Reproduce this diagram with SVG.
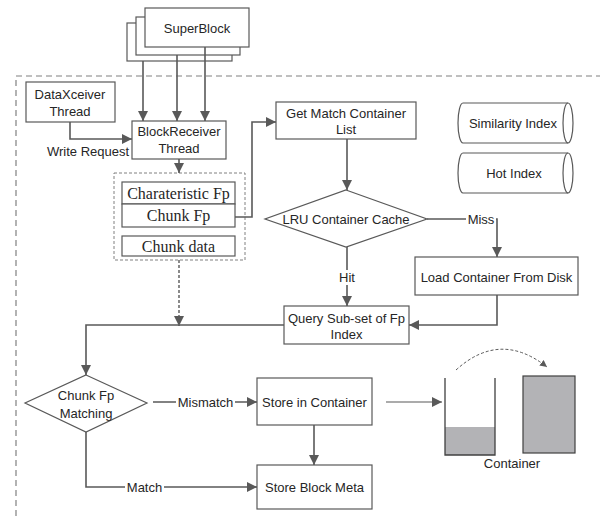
<svg xmlns="http://www.w3.org/2000/svg" width="600" height="516" viewBox="0 0 600 516">
<defs>
<style>
.box{fill:#fff;stroke:#595959;stroke-width:1.2}
.t{font-family:"Liberation Sans",Arial,sans-serif;font-size:13px;fill:#262626;text-anchor:middle;dominant-baseline:central}
.s{font-family:"Liberation Serif","Times New Roman",serif;font-size:16px;fill:#262626;text-anchor:middle;dominant-baseline:central}
.ln{fill:none;stroke:#595959;stroke-width:1.6}
.thin{fill:none;stroke:#595959;stroke-width:1.2}
.bg{fill:#fff}
</style>
<marker id="ah" viewBox="0 0 10 10" refX="10" refY="5" markerWidth="10" markerHeight="10" markerUnits="userSpaceOnUse" orient="auto">
<path d="M0,0 L10,5 L0,10 z" fill="#595959"/>
</marker>
<marker id="ahs" viewBox="0 0 10 10" refX="10" refY="5" markerWidth="7" markerHeight="7" markerUnits="userSpaceOnUse" orient="auto">
<path d="M0,0 L10,5 L0,10 z" fill="#595959"/>
</marker>
</defs>
<rect width="600" height="516" fill="#fff"/>

<path d="M16,516 V76 H600" fill="none" stroke="#808080" stroke-width="1.2" stroke-dasharray="6,4"/>

<g id="superblock">
<rect class="box" x="127" y="23" width="105" height="38"/>
<rect class="box" x="136" y="17" width="104" height="38"/>
<rect class="box" x="145" y="8" width="104" height="39"/>
<text class="t" x="197" y="28">SuperBlock</text>
</g>

<g id="dataxceiver">
<rect class="box" x="26" y="82" width="89" height="40"/>
<text class="t" x="70" y="94">DataXceiver</text>
<text class="t" x="70" y="111">Thread</text>
</g>

<g id="blockreceiver">
<rect class="box" x="132" y="121" width="94" height="38"/>
<text class="t" x="179" y="131">BlockReceiver</text>
<text class="t" x="179" y="148">Thread</text>
</g>

<g id="chunkgroup">
<rect x="114" y="173" width="131" height="87" fill="#fff" stroke="#808080" stroke-width="1" stroke-dasharray="3,2"/>
<rect class="box" x="122" y="182" width="113" height="22"/>
<text class="s" x="178.5" y="193">Charateristic Fp</text>
<rect class="box" x="122" y="204" width="113" height="23"/>
<text class="s" x="178.5" y="215.5">Chunk Fp</text>
<rect class="box" x="122" y="236" width="113" height="20"/>
<text class="s" x="178.5" y="246">Chunk data</text>
</g>

<g id="getmatch">
<rect class="box" x="276" y="102" width="140" height="37"/>
<text class="t" x="346" y="113">Get Match Container</text>
<text class="t" x="346" y="129">List</text>
</g>

<g id="similarity">
<path class="box" d="M463,103 H568 A5,20 0 0 1 568,143 H463 A5,20 0 0 1 463,103 Z"/>
<path class="thin" d="M568,143 A5,20 0 0 1 568,103"/>
<text class="t" x="513" y="123">Similarity Index</text>
</g>

<g id="hotindex">
<path class="box" d="M463,153 H568 A5,20 0 0 1 568,193 H463 A5,20 0 0 1 463,153 Z"/>
<path class="thin" d="M568,193 A5,20 0 0 1 568,153"/>
<text class="t" x="514" y="173">Hot Index</text>
</g>

<g id="lru">
<polygon class="box" points="346,190 427,219 346,247 265,219"/>
<text class="t" x="346" y="219">LRU Container Cache</text>
</g>

<g id="loadcontainer">
<rect class="box" x="415" y="257" width="163" height="38"/>
<text class="t" x="496.5" y="277">Load Container From Disk</text>
</g>

<g id="query">
<rect class="box" x="284" y="306" width="125" height="38"/>
<text class="t" x="346.5" y="318">Query Sub-set of Fp</text>
<text class="t" x="346.5" y="334">Index</text>
</g>

<g id="chunkmatch">
<polygon class="box" points="86,375 147,403 86,432 25,403"/>
<text class="t" x="86" y="395">Chunk Fp</text>
<text class="t" x="86" y="413">Matching</text>
</g>

<g id="storecontainer">
<rect class="box" x="257" y="378" width="115" height="47"/>
<text class="t" x="314.5" y="402">Store in Container</text>
</g>

<g id="storemeta">
<rect class="box" x="257" y="465" width="115" height="44"/>
<text class="t" x="314.5" y="487">Store Block Meta</text>
</g>

<g id="containers">
<rect x="445" y="427" width="50" height="28" fill="#b3b3b6"/>
<path d="M445,378 V455 H495 V378" fill="none" stroke="#404040" stroke-width="1.3"/>
<rect x="523" y="376" width="52" height="77" fill="#b3b3b6" stroke="#404040" stroke-width="1.2"/>
<text class="t" x="512" y="463">Container</text>
</g>

<g id="connectors">
<line class="ln" x1="143" y1="61" x2="143" y2="121" marker-end="url(#ah)"/>
<line class="ln" x1="177" y1="55" x2="177" y2="121" marker-end="url(#ah)"/>
<line class="ln" x1="205" y1="47" x2="205" y2="121" marker-end="url(#ah)"/>
<path class="ln" d="M70,122 V139 H132" marker-end="url(#ah)"/>
<line class="ln" x1="179" y1="159" x2="179" y2="173" marker-end="url(#ah)"/>
<path class="ln" d="M235,217 H252 V122 H276" marker-end="url(#ah)"/>
<line class="ln" x1="347" y1="139" x2="347" y2="190" marker-end="url(#ah)"/>
<path class="ln" d="M427,219 H497 V257" marker-end="url(#ah)"/>
<line class="ln" x1="347" y1="247" x2="347" y2="306" marker-end="url(#ah)"/>
<path class="ln" d="M497,295 V325 H409" marker-end="url(#ah)"/>
<path class="ln" d="M284,325 H86 V375" marker-end="url(#ah)"/>
<line x1="179" y1="260" x2="179" y2="326" stroke="#595959" stroke-width="1.4" stroke-dasharray="3,2" marker-end="url(#ah)"/>
<line class="ln" x1="153" y1="402" x2="257" y2="402" marker-end="url(#ah)"/>
<path class="ln" d="M86,432 V487 H257" marker-end="url(#ah)"/>
<line class="ln" x1="314" y1="425" x2="314" y2="465" marker-end="url(#ah)"/>
<line class="thin" x1="386" y1="402" x2="442" y2="402" marker-end="url(#ah)"/>
<path d="M456,370 Q500,330 547,367" fill="none" stroke="#595959" stroke-width="1" stroke-dasharray="3,2" marker-end="url(#ahs)"/>
</g>

<g id="labels">
<text class="t" x="88" y="151">Write Request</text>
<rect class="bg" x="466" y="211" width="30" height="16"/>
<text class="t" x="481" y="219">Miss</text>
<rect class="bg" x="335" y="270" width="24" height="15"/>
<text class="t" x="347" y="277">Hit</text>
<rect class="bg" x="176" y="394" width="59" height="16"/>
<text class="t" x="205.5" y="402">Mismatch</text>
<rect class="bg" x="125" y="479" width="39" height="16"/>
<text class="t" x="144.5" y="487">Match</text>
</g>
</svg>
